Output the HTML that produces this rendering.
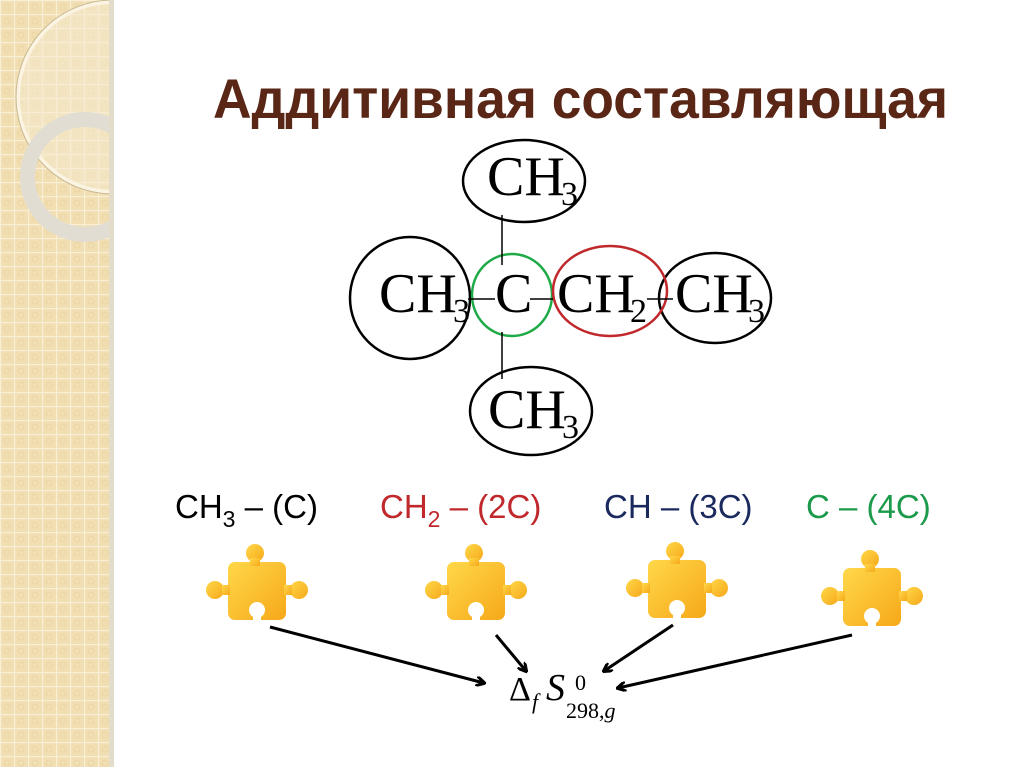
<!DOCTYPE html>
<html><head><meta charset="utf-8"><style>
html,body{margin:0;padding:0;width:1024px;height:767px;overflow:hidden;background:#fff}
</style></head><body>
<svg width="1024" height="767" viewBox="0 0 1024 767" xmlns="http://www.w3.org/2000/svg">
<defs>
<pattern id="grid" width="14" height="14" patternUnits="userSpaceOnUse">
<rect width="14" height="14" fill="#f1dfb3"/>
<path d="M0 0.5H14M0.5 0V14" stroke="#f9efd6" stroke-width="1.2"/>
<circle cx="7" cy="7" r="3" fill="none" stroke="#ead39e" stroke-width="0.8"/>
</pattern>
<clipPath id="strip"><rect x="0" y="0" width="111" height="767"/></clipPath>
<linearGradient id="pz" x1="0" y1="0" x2="1" y2="1">
<stop offset="0" stop-color="#ffd84a"/><stop offset="1" stop-color="#f6a819"/>
</linearGradient>
<g id="piece">
<rect x="0" y="0" width="58" height="58" rx="7" fill="url(#pz)"/>
<circle cx="27" cy="-9" r="9" fill="url(#pz)"/>
<rect x="22" y="-4" width="10" height="8" fill="url(#pz)"/>
<circle cx="-13" cy="28" r="9" fill="url(#pz)"/>
<rect x="-6" y="23" width="8" height="10" fill="url(#pz)"/>
<circle cx="71" cy="28" r="9" fill="url(#pz)"/>
<rect x="56" y="23" width="8" height="10" fill="url(#pz)"/>
<circle cx="29" cy="48" r="8" fill="#fff"/>
<rect x="25" y="50" width="8" height="9" fill="#fff"/>
</g>
<marker id="ah" markerWidth="10" markerHeight="10" refX="8" refY="5" orient="auto" markerUnits="userSpaceOnUse">
<path d="M0 0L9 5L0 10" fill="none" stroke="#000" stroke-width="3"/>
</marker>
</defs>
<rect x="0" y="0" width="111" height="767" fill="url(#grid)"/>
<g clip-path="url(#strip)">
<circle cx="113" cy="97" r="95" fill="#f6ecd2" fill-opacity="0.5" stroke="#fbf4e2" stroke-width="4"/>
<circle cx="113" cy="97" r="97" fill="none" stroke="#c9b890" stroke-width="1"/>
<circle cx="85" cy="177" r="57.5" fill="none" stroke="#e2ddd2" stroke-width="15"/>
</g>
<rect x="109" y="0" width="5" height="767" fill="#e4dccb"/>

<text x="213" y="118" font-family="Liberation Sans, sans-serif" font-weight="bold" font-size="56" fill="#5a2717" textLength="735" lengthAdjust="spacingAndGlyphs">Аддитивная составляющая</text>

<g fill="none" stroke="#000" stroke-width="2.5">
<ellipse cx="524" cy="181" rx="61" ry="41"/>
<ellipse cx="410" cy="298" rx="60" ry="61"/>
<ellipse cx="715" cy="298" rx="56" ry="45"/>
<ellipse cx="531" cy="411" rx="61" ry="44"/>
</g>
<ellipse cx="512" cy="295" rx="40" ry="41" fill="none" stroke="#1faa48" stroke-width="2.5"/>
<ellipse cx="610" cy="291" rx="57" ry="45" fill="none" stroke="#c0282b" stroke-width="2.5"/>
<g stroke="#000" stroke-width="1.5">
<line x1="502" y1="215" x2="502" y2="265"/>
<line x1="502" y1="332" x2="502" y2="379"/>
<line x1="468" y1="299" x2="495" y2="299"/>
<line x1="530" y1="299" x2="553" y2="299"/>
<line x1="647" y1="299" x2="673" y2="299"/>
</g>
<g font-family="Liberation Serif, serif" fill="#000">
<text x="487" y="195" font-size="56">CH</text><text x="561" y="205" font-size="34">3</text>
<text x="379" y="312" font-size="56">CH</text><text x="453" y="322" font-size="34">3</text>
<text x="495" y="312" font-size="56">C</text>
<text x="557" y="312" font-size="56">CH</text><text x="630" y="322" font-size="34">2</text>
<text x="675" y="312" font-size="56">CH</text><text x="748" y="322" font-size="34">3</text>
<text x="488" y="428" font-size="56">CH</text><text x="562" y="438" font-size="34">3</text>
</g>

<g font-family="Liberation Sans, sans-serif" font-size="33">
<text x="175" y="518" fill="#000">CH<tspan font-size="23" dy="9">3</tspan><tspan dy="-9"> – (C)</tspan></text>
<text x="380" y="518" fill="#c0282b">CH<tspan font-size="23" dy="9">2</tspan><tspan dy="-9"> –  (2C)</tspan></text>
<text x="604" y="518" fill="#1b2a5e">CH – (3C)</text>
<text x="806" y="518" fill="#1a9a4a">C – (4C)</text>
</g>

<use href="#piece" x="228" y="562"/>
<use href="#piece" x="447" y="562"/>
<use href="#piece" x="648" y="560"/>
<use href="#piece" x="843" y="568"/>

<g stroke="#000" stroke-width="3" marker-end="url(#ah)">
<line x1="270" y1="627" x2="484" y2="683"/>
<line x1="496" y1="635" x2="526" y2="671"/>
<line x1="673" y1="625" x2="604" y2="671"/>
<line x1="852" y1="635" x2="618" y2="688"/>
</g>

<g font-family="Liberation Serif, serif" fill="#000">
<text x="509" y="700" font-size="34">Δ</text>
<text x="532" y="709" font-size="22" font-style="italic">f</text>
<text x="546" y="700" font-size="38" font-style="italic">S</text>
<text x="575" y="690" font-size="22">0</text>
<text x="566" y="718" font-size="22">298,<tspan font-style="italic">g</tspan></text>
</g>
</svg>
</body></html>
